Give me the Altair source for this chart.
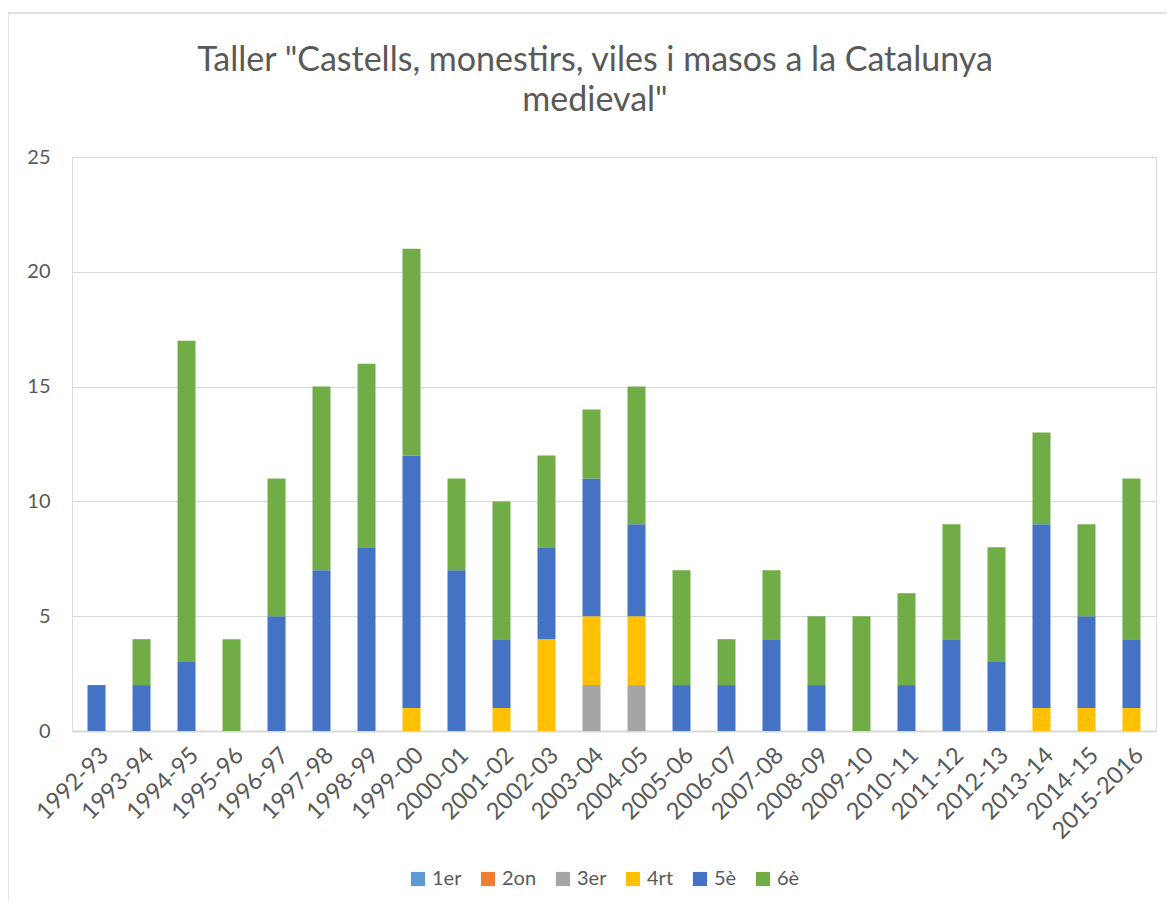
import altair as alt
import pandas as pd

years = ["1992-93", "1993-94", "1994-95", "1995-96", "1996-97", "1997-98", "1998-99",
         "1999-00", "2000-01", "2001-02", "2002-03", "2003-04", "2004-05", "2005-06",
         "2006-07", "2007-08", "2008-09", "2009-10", "2010-11", "2011-12", "2012-13",
         "2013-14", "2014-15", "2015-2016"]

series = ["1er", "2on", "3er", "4rt", "5è", "6è"]
colors = ["#5B9BD5", "#ED7D31", "#A5A5A5", "#FFC000", "#4472C4", "#70AD47"]

v_1er = [0] * 24
v_2on = [0] * 24
v_3er = [0, 0, 0, 0, 0, 0, 0, 0, 0, 0, 0, 2, 2, 0, 0, 0, 0, 0, 0, 0, 0, 0, 0, 0]
v_4rt = [0, 0, 0, 0, 0, 0, 0, 1, 0, 1, 4, 3, 3, 0, 0, 0, 0, 0, 0, 0, 0, 1, 1, 1]
v_5e  = [2, 2, 3, 0, 5, 7, 8, 11, 7, 3, 4, 6, 4, 2, 2, 4, 2, 0, 2, 4, 3, 8, 4, 3]
v_6e  = [0, 2, 14, 4, 6, 8, 8, 9, 4, 6, 4, 3, 6, 5, 2, 3, 3, 5, 4, 5, 5, 4, 4, 7]

all_vals = [v_1er, v_2on, v_3er, v_4rt, v_5e, v_6e]
rows = []
for si, (name, vals) in enumerate(zip(series, all_vals)):
    for y, v in zip(years, vals):
        rows.append({"year": y, "series": name, "value": v, "idx": si})
df = pd.DataFrame(rows)

FONT = "Lato"
GRAY = "#595959"
W, H = 1084, 574

bars = alt.Chart(df).mark_bar().encode(
    x=alt.X("year:N", sort=years, title=None,
            scale=alt.Scale(paddingInner=0.6, paddingOuter=0.345),
            axis=alt.Axis(labelAngle=-45, labelAlign="right", labelBaseline="top",
                          labelPadding=12, ticks=False, domainColor="#D9D9D9",
                          domainWidth=2, labelColor=GRAY, labelFontSize=23.5,
                          labelFont=FONT, grid=False)),
    y=alt.Y("value:Q", stack="zero", title=None,
            scale=alt.Scale(domain=[0, 25]),
            axis=alt.Axis(values=[0, 5, 10, 15, 20, 25], domain=False, ticks=False,
                          labelPadding=22, labelColor=GRAY, labelFontSize=20,
                          labelFont=FONT, gridColor="#D9D9D9", gridWidth=1)),
    color=alt.Color("series:N", title=None,
                    scale=alt.Scale(domain=series, range=colors),
                    legend=alt.Legend(orient="none", direction="horizontal",
                                      legendX=336, legendY=712,
                                      symbolType="square", symbolSize=200,
                                      symbolStrokeWidth=0, labelFontSize=20,
                                      labelFont=FONT, labelColor=GRAY,
                                      columnPadding=16, labelOffset=4)),
    order=alt.Order("idx:Q", sort="ascending"),
)

frame = alt.Chart(pd.DataFrame({"a": [0]})).mark_rect(
    fill=None, stroke="#D9D9D9", strokeWidth=1.5
).encode(x=alt.value(-64), x2=alt.value(1300), y=alt.value(-144), y2=alt.value(1000))

chart = alt.layer(frame, bars).properties(
    width=W, height=H,
    title=alt.TitleParams(
        text=['Taller "Castells, monestirs, viles i masos a la Catalunya', 'medieval"'],
        anchor="middle", frame="group", dx=-19, fontSize=34, font=FONT,
        fontWeight="normal", color=GRAY, lineHeight=40, offset=-106),
    autosize=alt.AutoSizeParams(type="none"),
    padding={"left": 64, "top": 149, "right": 10, "bottom": 170},
).configure_view(stroke=None).configure(background="white")

chart.save("out.html", embed_options={"renderer": "svg", "actions": False})
